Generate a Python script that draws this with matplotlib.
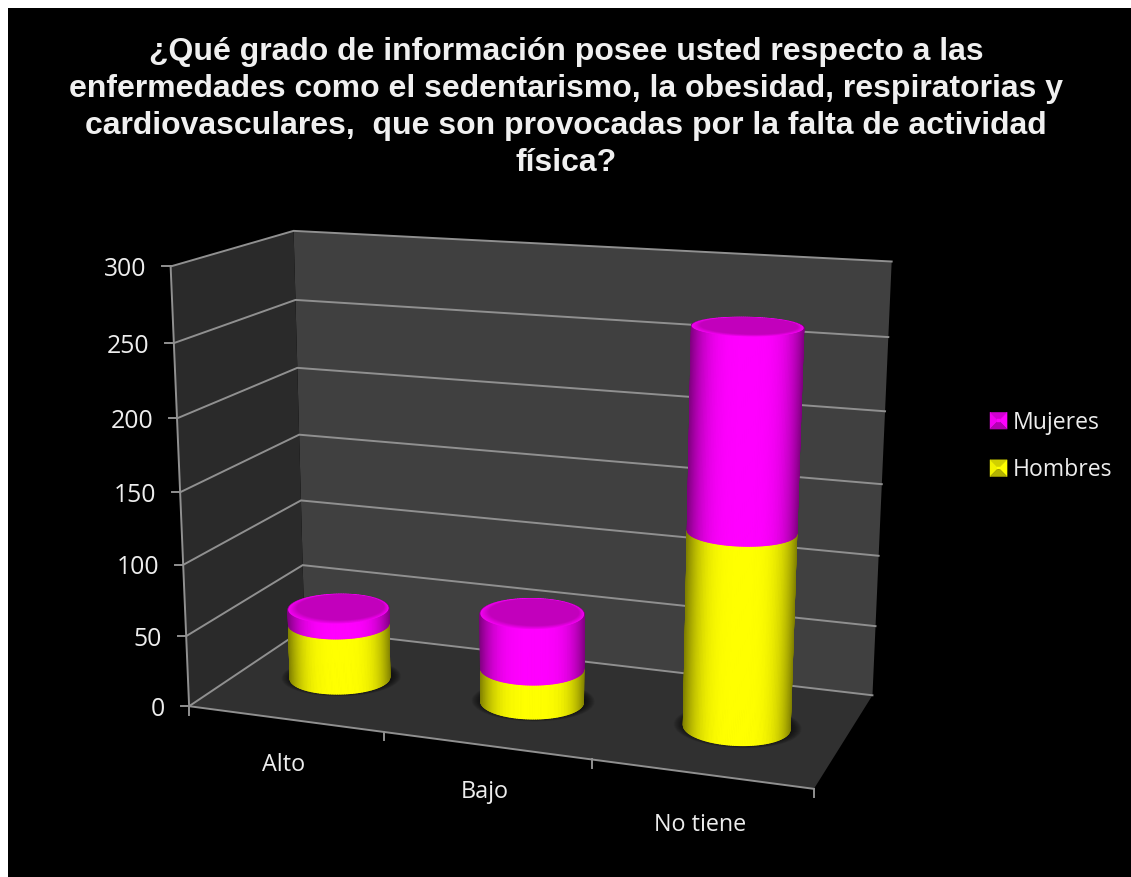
import numpy as np
import matplotlib
matplotlib.use("Agg")
import matplotlib.pyplot as plt
from matplotlib.collections import PolyCollection
from matplotlib.legend_handler import HandlerBase
from matplotlib.patches import Patch, Polygon, Rectangle

# ---------- data ----------
categories = ["Alto", "Bajo", "No tiene"]
hombres = [40, 24, 134]
mujeres = [11, 39, 134]
series_names = ["Hombres", "Mujeres"]
y_ticks = [0, 50, 100, 150, 200, 250, 300]
title = ("¿Qué grado de información posee usted respecto a las\n"
         "enfermedades como el sedentarismo, la obesidad, respiratorias y\n"
         "cardiovasculares,  que son provocadas por la falta de actividad\n"
         "física?")

# ---------- layout (chart box -> figure pixels) ----------
W, H = 1131, 877
Y_MAX = 300
box_world = [(0, 0, 0), (1, 0, 0), (1, 0, 1), (0, 0, 1), (0, 1, 0), (0, 1, 1), (1, 1, 1),
             (0, 50 / 300, 0), (0, 50 / 300, 1), (1, 50 / 300, 1), (1, 150 / 300, 1)]
box_pixels = [(189.3, 705.7), (814, 789.3), (872.3, 695), (303.5, 630), (170, 266.7), (294, 230.7),
              (891.7, 261.7), (186.5, 636), (303.3, 564.5), (875.7, 626), (881.7, 484)]
RADIUS = 0.0815
DEPTH = 0.49
CENTRE_SHIFT = -0.0005
DEPTH_STRETCH = 2.3
YELLOW = np.array([1.0, 1.0, 0.0])
MAGENTA = np.array([1.0, 0.0, 1.0])
TEXT = "#EDEDED"
GRID = "#909090"
FONT = "Open Sans"
label_drop = [46.5, 47, 51]


def fit_projection(world, image):
    rows, rhs = [], []
    for (x, y, z), (u, v) in zip(world, image):
        rows.append([x, y, z, 1, 0, 0, 0, 0, -u * x, -u * y, -u * z])
        rhs.append(u)
        rows.append([0, 0, 0, 0, x, y, z, 1, -v * x, -v * y, -v * z])
        rhs.append(v)
    p = np.linalg.lstsq(np.array(rows), np.array(rhs), rcond=None)[0]
    return np.append(p, 1.0).reshape(3, 4)


PROJ = fit_projection(box_world, box_pixels)


def project(x, value, z):
    x, value, z = np.broadcast_arrays(np.asarray(x, float), np.asarray(value, float), np.asarray(z, float))
    pts = np.stack([x, value / Y_MAX, z, np.ones_like(x)], axis=-1) @ PROJ.T
    return pts[..., :2] / pts[..., 2:3]


def ring(cx, value, radius, dz=0.0, n=180):
    t = np.linspace(0, 2 * np.pi, n, endpoint=False)
    # a circle in the floor plane; depth is stretched so the circle looks round in the box
    return project(cx + radius * np.cos(t), value, DEPTH + dz + radius * DEPTH_STRETCH * np.sin(t))


def side(ax, cx, v0, v1, colour, zorder):
    low, high = ring(cx, v0, RADIUS), ring(cx, v1, RADIUS)
    n = len(low)
    order = np.argsort(-np.sin(np.linspace(0, 2 * np.pi, n, endpoint=False)))
    c = (low[:, 0].mean() + high[:, 0].mean()) / 2
    half = (np.ptp(low[:, 0]) + np.ptp(high[:, 0])) / 4
    quads, faces = [], []
    for i in order:
        j = (i + 1) % n
        quads.append([low[i], low[j], high[j], high[i]])
        u = abs((low[i][0] + high[i][0]) / 2 - c) / half
        faces.append(colour * (1 - 0.5 * min(u, 1) ** 3.5))
    ax.add_collection(PolyCollection(quads, facecolors=faces, edgecolors=faces, linewidths=0.9, zorder=zorder))


def cap(ax, cx, value, zorder):
    outer = np.array(matplotlib.colors.to_rgb("#F400F2"))
    inner = np.array(matplotlib.colors.to_rgb("#C200BC"))
    steps = 14
    for k in range(steps):
        f = k / (steps - 1)
        ax.add_patch(Polygon(ring(cx, value, RADIUS * (1 - 0.13 * f), dz=0.02 * f), closed=True,
                             fc=outer + (inner - outer) * f, ec="none", zorder=zorder + k * 0.01))


def shadow(ax, cx):
    for k, scale in enumerate(np.linspace(1.2, 1.0, 12)):
        ax.add_patch(Polygon(ring(cx, 0, RADIUS * scale, dz=0.012), closed=True, fc="black", ec="none",
                             alpha=0.07, zorder=3 + k * 0.01))


class BevelHandler(HandlerBase):
    def create_artists(self, legend, orig, xd, yd, width, height, fontsize, trans):
        base = np.array(matplotlib.colors.to_rgb(orig.get_facecolor()))
        x0, y0, x1, y1 = xd * -1, yd * -1, xd * -1 + width, yd * -1 + height
        ins = 0.42 * width
        ix0, ix1, iy0, iy1 = x0 + ins, x1 - ins, y0 + ins, y1 - ins
        faces = [([(x0, y1), (x1, y1), (ix1, iy1), (ix0, iy1)], 0.82),
                 ([(x0, y0), (x0, y1), (ix0, iy1), (ix0, iy0)], 0.95),
                 ([(x1, y0), (x1, y1), (ix1, iy1), (ix1, iy0)], 1.0),
                 ([(x0, y0), (x1, y0), (ix1, iy0), (ix0, iy0)], 0.7),
                 ([(ix0, iy0), (ix1, iy0), (ix1, iy1), (ix0, iy1)], 1.0)]
        return [Polygon(p, closed=True, fc=base * s, ec=base * s, lw=0.3, transform=trans) for p, s in faces]


# ---------- figure ----------
fig = plt.figure(figsize=(W / 100, H / 100), dpi=100, facecolor="white")
ax = fig.add_axes([0, 0, 1, 1])
ax.set_xlim(0, W)
ax.set_ylim(H, 0)
ax.axis("off")
ax.add_patch(Rectangle((8, 8), W - 8, H - 8, fc="black", ec="none", zorder=0))

# walls and floor
wall = lambda pts: np.array([project(*p) for p in pts])
ax.add_patch(Polygon(wall([(0, 0, 1), (1, 0, 1), (1, 300, 1), (0, 300, 1)]), fc="#404040", ec="none", zorder=1))
ax.add_patch(Polygon(wall([(0, 0, 0), (0, 0, 1), (0, 300, 1), (0, 300, 0)]), fc="#2A2A2A", ec="none", zorder=1))
ax.add_patch(Polygon(wall([(0, 0, 0), (1, 0, 0), (1, 0, 1), (0, 0, 1)]), fc="#303030", ec="none", zorder=1))

# grid, axis lines, ticks
for v in y_ticks:
    pts = wall([(0, v, 0), (0, v, 1), (1, v, 1)])
    ax.plot(pts[:, 0], pts[:, 1], color=GRID, lw=1.4, zorder=2, solid_joinstyle="miter")
    ax.plot([pts[0, 0] - 8.5, pts[0, 0]], [pts[0, 1], pts[0, 1]], color=GRID, lw=1.4, zorder=2)
    ax.text(pts[0, 0] - 24, pts[0, 1] + 3, str(v), ha="right", va="center", color=TEXT, fontsize=17.8, family=FONT)
pts = wall([(0, 0, 0), (0, 300, 0)])
ax.plot(pts[:, 0], pts[:, 1], color=GRID, lw=1.4, zorder=2)
pts = wall([(0, 0, 0), (1, 0, 0)])
ax.plot(pts[:, 0], pts[:, 1], color=GRID, lw=1.4, zorder=2)
for i in range(len(categories) + 1):
    p = project(i / len(categories), 0, 0)
    ax.plot([p[0], p[0]], [p[1], p[1] + 8.5], color=GRID, lw=1.4, zorder=2)

# stacked cylinders
for i, name in enumerate(categories):
    cx = (i + 0.5) / len(categories) + CENTRE_SHIFT
    base, a, b = 0, hombres[i], hombres[i] + mujeres[i]
    shadow(ax, cx)
    side(ax, cx, base, a, YELLOW, 4)
    side(ax, cx, a, b, MAGENTA, 5)
    cap(ax, cx, b, 6)
    p = project((i + 0.5) / len(categories), 0, 0)
    ax.text(p[0] - 1, p[1] + label_drop[i], name, ha="center", va="center", color=TEXT, fontsize=16.8, family=FONT)

ax.text(566, 107.5, title, ha="center", va="center", color="#F0F0F0", fontsize=23.05, fontweight="bold",
        family="Liberation Sans", linespacing=1.29)

handles = [Patch(facecolor="#FF00FF"), Patch(facecolor="#FFFF00")]
leg = ax.legend(handles, [series_names[1], series_names[0]], handler_map={Patch: BevelHandler()},
                loc="center left", bbox_to_anchor=(990 / W, 1 - 446.5 / H), bbox_transform=fig.transFigure,
                frameon=False, prop={"family": FONT, "size": 16.6}, labelcolor=TEXT,
                handlelength=0.74, handleheight=0.74, handletextpad=0.26, labelspacing=1.02,
                borderpad=0, borderaxespad=0)

fig.savefig("out.png", dpi=100, facecolor=fig.get_facecolor())
